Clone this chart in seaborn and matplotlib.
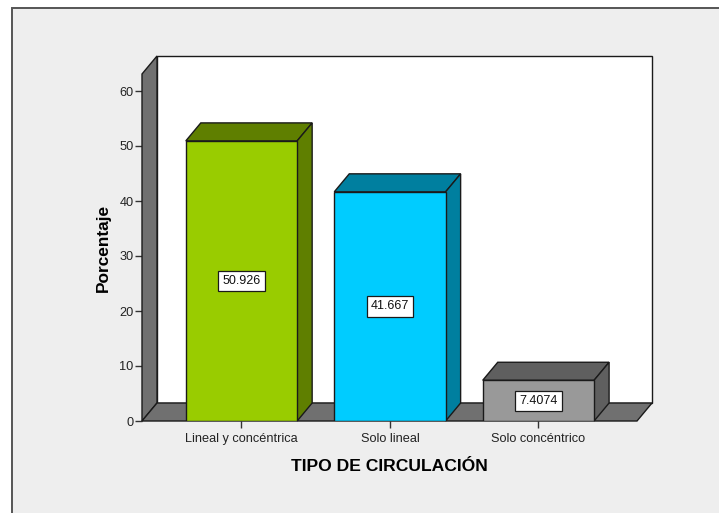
import matplotlib
matplotlib.use("Agg")
import matplotlib.pyplot as plt
from matplotlib.patches import Polygon, Rectangle
import pandas as pd
import seaborn as sns

categories = ["Lineal y concéntrica", "Solo lineal", "Solo concéntrico"]
values = [50.926, 41.667, 7.4074]
value_labels = ["50.926", "41.667", "7.4074"]
yticks = [0, 10, 20, 30, 40, 50, 60]

front_colors = ["#99cc00", "#00ccff", "#999999"]
side_colors = ["#5f7f00", "#007f9f", "#5f5f5f"]
wall_color = "#707070"
panel_color = "#eeeeee"
line_color = "#1a1a1a"

W, H = 719, 513
DEPTH_X, DEPTH_Y = 15, 18  # pixels

sns.set_style("white")
plt.rcParams["font.family"] = ["Liberation Sans", "DejaVu Sans"]

fig = plt.figure(figsize=(W / 100, H / 100), dpi=100, facecolor="white")
fig.add_artist(Rectangle((11.5 / W, -0.1), 1, 1 - 8.5 / H + 0.1, transform=fig.transFigure,
                         facecolor=panel_color, edgecolor="#555555", linewidth=1.4, zorder=-1))

ax = fig.add_axes([142 / W, (H - 421) / H, 495 / W, 347 / H])
ax.patch.set_alpha(0)
df = pd.DataFrame({"circulacion": categories, "porcentaje": values})
sns.barplot(data=df, x="circulacion", y="porcentaje", hue="circulacion", palette=front_colors,
            legend=False, width=0.75, edgecolor=line_color, linewidth=1.0, saturation=1, ax=ax, zorder=3)
ax.set_xlim(-0.67, 2.664)
ax.set_ylim(0, 347 / 5.5)
ax.set_yticks(yticks)

# depth offsets in data units
x0, x1 = ax.get_xlim()
y0, y1 = ax.get_ylim()
dx = DEPTH_X * (x1 - x0) / 495
dy = DEPTH_Y * (y1 - y0) / 347


def poly(pts, color, z, lw=1.0):
    ax.add_patch(Polygon(pts, closed=True, facecolor=color, edgecolor=line_color, linewidth=lw,
                         zorder=z, clip_on=False, joinstyle="miter"))


bars = list(ax.patches)

# back wall, left wall, floor
poly([(x0 + dx, y0 + dy), (x1 + dx, y0 + dy), (x1 + dx, y1 + dy), (x0 + dx, y1 + dy)], "white", 1)
poly([(x0, y0), (x0 + dx, y0 + dy), (x0 + dx, y1 + dy), (x0, y1)], wall_color, 1.5)
poly([(x0, y0), (x1, y0), (x1 + dx, y0 + dy), (x0 + dx, y0 + dy)], wall_color, 1.5)

# bar tops and sides, taken from the seaborn bars
for bar, side in zip(bars, side_colors):
    l, r, t = bar.get_x(), bar.get_x() + bar.get_width(), bar.get_height()
    poly([(l, t), (r, t), (r + dx, t + dy), (l + dx, t + dy)], side, 2.5)
    poly([(r, 0), (r + dx, dy), (r + dx, t + dy), (r, t)], side, 2.5)

for bar, label in zip(bars, value_labels):
    ax.text(bar.get_x() + bar.get_width() / 2, bar.get_height() / 2, label, ha="center", va="center",
            fontsize=9, color="#111111", zorder=5,
            bbox=dict(boxstyle="square,pad=0.33", facecolor="white", edgecolor=line_color, linewidth=0.9))

sns.despine(ax=ax, top=True, right=True, left=True, bottom=True)
ax.tick_params(axis="both", direction="out", length=5, width=1.0, color="#333333",
               labelsize=9.2, labelcolor="#222222", pad=1, bottom=True, left=True)
ax.tick_params(axis="x", pad=3.5)
ax.set_xlabel("TIPO DE CIRCULACIÓN", fontsize=12.6, fontweight="bold", color="black", labelpad=10)
ax.set_ylabel("Porcentaje", fontsize=12.4, fontweight="bold", color="black", labelpad=6.5)

fig.savefig("out.png", dpi=100, facecolor=fig.get_facecolor())
